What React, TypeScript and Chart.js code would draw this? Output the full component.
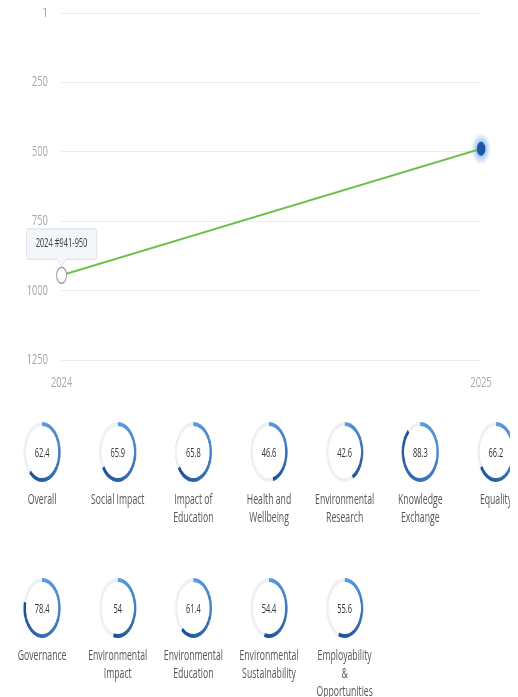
import React, { useEffect, useRef } from 'react';
import { Chart, registerables } from 'chart.js';

Chart.register(...registerables);

const years = ['2024', '2025'];
const rankValues = [945, 490];
const rankBands = ['941-950', '481-490'];
const yTicks = [1, 250, 500, 750, 1000, 1250];

const metricNames = [
  'Overall',
  'Social Impact',
  'Impact of Education',
  'Health and Wellbeing',
  'Environmental Research',
  'Knowledge Exchange',
  'Equality',
  'Governance',
  'Environmental Impact',
  'Environmental Education',
  'Environmental Sustainability',
  'Employability & Opportunities',
];
const metricScores = [62.4, 65.9, 65.8, 46.6, 42.6, 88.3, 66.2, 78.4, 54, 61.4, 54.4, 55.6];

const SX = 0.62;
const DESIGN_W = 810;
const CHART_H = 424;
const FONT = "'Open Sans', 'Noto Sans', sans-serif";

Chart.defaults.font.family = FONT;

const haloPlugin = {
  id: 'halo',
  beforeDatasetsDraw(chart: any) {
    const meta = chart.getDatasetMeta(0);
    const pt = meta.data[meta.data.length - 1];
    if (!pt) return;
    const ctx = chart.ctx;
    ctx.save();
    const g = ctx.createRadialGradient(pt.x, pt.y, 5, pt.x, pt.y, 16);
    g.addColorStop(0, 'rgba(110,170,235,0.75)');
    g.addColorStop(1, 'rgba(110,170,235,0)');
    ctx.fillStyle = g;
    ctx.beginPath();
    ctx.arc(pt.x, pt.y, 16, 0, Math.PI * 2);
    ctx.fill();
    ctx.restore();
  },
};

function RankChart() {
  const ref = useRef<HTMLCanvasElement | null>(null);
  useEffect(() => {
    if (!ref.current) return;
    const chart = new Chart(ref.current, {
      type: 'line',
      data: {
        labels: years,
        datasets: [
          {
            data: rankValues,
            borderColor: '#6cbf4a',
            borderWidth: 2,
            tension: 0,
            clip: false as any,
            pointRadius: [8, 7],
            pointBorderWidth: [1.5, 0],
            pointBackgroundColor: ['#ffffff', '#1d58a6'],
            pointBorderColor: ['#9a9a9a', '#1d58a6'],
          },
        ],
      },
      options: {
        animation: false,
        responsive: false,
        events: [],
        layout: { padding: { left: 8, right: 47, top: 0, bottom: 0 } },
        plugins: {
          legend: { display: false },
          tooltip: {
            enabled: true,
            backgroundColor: '#f3f6fa',
            borderColor: '#d6dde6',
            borderWidth: 1,
            bodyColor: '#444444',
            bodyFont: { size: 12, weight: 500 as any, family: FONT },
            displayColors: false,
            padding: { left: 15, right: 15, top: 8, bottom: 8 } as any,
            caretSize: 7,
            caretPadding: 9,
            cornerRadius: 3,
            yAlign: 'bottom',
            xAlign: 'center',
            callbacks: {
              title: () => '',
              label: (ctx: any) => `${years[ctx.dataIndex]} #${rankBands[ctx.dataIndex]}`,
            },
          },
        },
        scales: {
          x: {
            offset: false,
            grid: { display: false, drawTicks: false },
            border: { display: false },
            ticks: { color: '#a6a6a6', font: { size: 15 }, padding: 14 },
          },
          y: {
            reverse: true,
            min: 1,
            max: 1250,
            afterBuildTicks: (scale: any) => {
              scale.ticks = yTicks.map((v) => ({ value: v }));
            },
            grid: { color: '#ececec', drawTicks: false, lineWidth: 1 },
            border: { display: false },
            ticks: {
              color: '#a6a6a6',
              font: { size: 15 },
              padding: 22,
              callback: (v: any) => String(v),
            },
          },
        },
      },
      plugins: [haloPlugin],
    });
    chart.tooltip?.setActiveElements([{ datasetIndex: 0, index: 0 }], { x: 0, y: 0 });
    chart.update();
    return () => chart.destroy();
  }, []);
  return (
    <div style={{ position: 'relative', width: DESIGN_W, height: CHART_H, marginTop: -22 }}>
      <canvas
        ref={ref}
        width={DESIGN_W}
        height={CHART_H}
        style={{ width: DESIGN_W, height: CHART_H, display: 'block' }}
      />
    </div>
  );
}

function Gauge({ value, name }: { value: number; name: string }) {
  const ref = useRef<HTMLCanvasElement | null>(null);
  useEffect(() => {
    if (!ref.current) return;
    const chart = new Chart(ref.current, {
      type: 'doughnut',
      data: {
        labels: ['score', 'rest'],
        datasets: [
          {
            data: [value, 100 - value],
            backgroundColor: (c: any) => {
              if (c.dataIndex === 1) return '#edf0f4';
              const area = c.chart.chartArea;
              if (!area) return '#2a64ad';
              const cx = (area.left + area.right) / 2;
              const cy = (area.top + area.bottom) / 2;
              const g = c.chart.ctx.createConicGradient(-Math.PI / 2, cx, cy);
              g.addColorStop(0, '#5c9de0');
              g.addColorStop(Math.max(0.01, value / 100), '#1c4f96');
              g.addColorStop(1, '#1c4f96');
              return g;
            },
            borderWidth: 0,
          },
        ],
      },
      options: {
        animation: false,
        responsive: false,
        events: [],
        cutout: '87%',
        rotation: 0,
        layout: { padding: 0 },
        plugins: { legend: { display: false }, tooltip: { enabled: false } },
      },
    });
    return () => chart.destroy();
  }, [value]);
  return (
    <div style={{ width: 98, display: 'flex', flexDirection: 'column', alignItems: 'center' }}>
      <div style={{ position: 'relative', width: 60, height: 60 }}>
        <canvas ref={ref} width={60} height={60} style={{ width: 60, height: 60, display: 'block' }} />
        <div
          style={{
            position: 'absolute',
            inset: 0,
            display: 'flex',
            alignItems: 'center',
            justifyContent: 'center',
            fontSize: 12,
            color: '#333',
          }}
        >
          {value}
        </div>
      </div>
      <div
        style={{
          marginTop: 8,
          width: 98,
          textAlign: 'center',
          fontSize: 14,
          lineHeight: '18px',
          color: '#555',
        }}
      >
        {name}
      </div>
    </div>
  );
}

export default function App() {
  return (
    <div
      style={{
        width: 502,
        height: 697,
        marginTop: -8,
        paddingTop: 4,
        boxSizing: 'border-box',
        overflow: 'hidden',
        fontFamily: FONT,
      }}
    >
      <div style={{ width: DESIGN_W, transform: `scaleX(${SX})`, transformOrigin: '0 0' }}>
        <RankChart />
        <div
          style={{
            marginTop: 16,
            paddingLeft: 6,
            display: 'grid',
            gridTemplateColumns: 'repeat(7, 98px)',
            columnGap: 24,
            gridAutoRows: '156px',
          }}
        >
          {metricNames.map((n, i) => (
            <Gauge key={n} name={n} value={metricScores[i]} />
          ))}
        </div>
      </div>
    </div>
  );
}
